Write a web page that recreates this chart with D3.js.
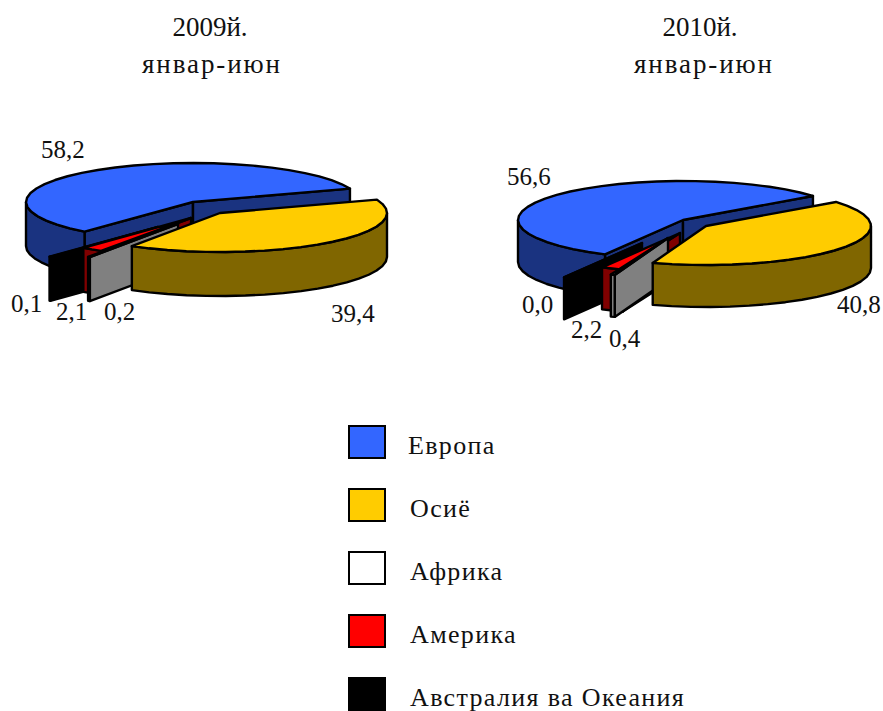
<!DOCTYPE html>
<html><head><meta charset="utf-8">
<style>html,body{margin:0;padding:0;background:#fff}svg{display:block}
text{font-family:"Liberation Serif","Times New Roman",serif;fill:#111}</style>
<script src="https://cdn.jsdelivr.net/npm/d3@7/dist/d3.min.js"></script></head>
<body><script>
const categories = ["Европа","Осиё","Африка","Америка","Австралия ва Океания"];
const values2009 = [58.2,39.4,0.2,2.1,0.1];
const values2010 = [56.6,40.8,0.4,2.2,0.0];
const titleYears = ["2009й.","2010й."];
const titlePeriod = "январ-июн";
const topColors = ["#3366FF","#FFCC00","#FFFFFF","#FF0000","#000000"];
const wallColors = ["#1A3380","#806600","#808080","#800000","#000000"];
const drawOrder = [0,4,3,2,1];

const W=883,H=711;
const svg=d3.select("body").append("svg").attr("width",W).attr("height",H);
const rad=d=>d*Math.PI/180;

const charts=[
 {values:values2009,cx:193,cy:202,rx:167,ry:39,depth:44,start:220.5,titleX:210,
  offsets:[[0,0],[27,11],[-15,22],[-2,16],[-35,25]],
  labels:[[41,158],[331,322],[104,320],[56,320],[11,312]]},
 {values:values2010,cx:683,cy:220,rx:165,ry:39,depth:42,start:208.2,titleX:700,
  offsets:[[0,0],[23,6],[-15,18],[-3,13],[-41,23]],
  labels:[[507,185],[837,313],[609,347],[571,338],[522,313]]}
];

const polyline=d3.line().curve(d3.curveLinear);
const fmt=v=>d3.format(".1f")(v).replace(".",",");

function sampleArc(a0,a1,step){
  const n=Math.max(1,Math.ceil((a1-a0)/step));
  return d3.range(n+1).map(i=>a0+(a1-a0)*i/n);
}

charts.forEach((c,ci)=>{
  const x=d3.scaleLinear().domain([-1,1]).range([-c.rx,c.rx]);
  const y=d3.scaleLinear().domain([-1,1]).range([c.ry,-c.ry]);
  const z=d3.scaleLinear().domain([0,1]).range([0,c.depth]);
  const pie=d3.pie().sort(null).startAngle(rad(c.start)).endAngle(rad(c.start+360));
  const arcs=pie(c.values);
  const g=svg.append("g");
  drawOrder.forEach(i=>{
    const s=arcs[i], [dx,dy]=c.offsets[i];
    const ax=c.cx+dx, ay=c.cy+dy;
    const pt=(t,h)=>[ax+x(Math.sin(t)),ay+y(Math.cos(t))+z(h)];
    const apex=h=>[ax,ay+z(h)];
    const a0=s.startAngle,a1=s.endAngle;
    const norm=t=>((t%(2*Math.PI))+2*Math.PI)%(2*Math.PI);
    const st={stroke:"#000","stroke-width":2.4,"stroke-linejoin":"round"};
    const poly=(pts,fill)=>{
      const p=g.append("path").attr("d",polyline(pts)+"Z").attr("fill",fill);
      Object.entries(st).forEach(([k,v])=>p.attr(k,v));
    };
    const wallAt=t=>poly([apex(0),pt(t,0),pt(t,1),apex(1)],wallColors[i]);
    if(norm(a0)>Math.PI) wallAt(a0);
    if(norm(a1)<Math.PI&&norm(a1)>0) wallAt(a1);
    const ranges=[[rad(90),rad(270)],[rad(450),rad(630)]];
    ranges.forEach(([r0,r1])=>{
      const lo=Math.max(a0,r0),hi=Math.min(a1,r1);
      if(hi>lo){
        const ts=sampleArc(lo,hi,rad(7));
        poly(ts.map(t=>pt(t,0)).concat(ts.slice().reverse().map(t=>pt(t,1))),wallColors[i]);
      }
    });
    const ts=sampleArc(a0,a1,rad(7));
    poly([apex(0)].concat(ts.map(t=>pt(t,0))),topColors[i]);
  });
  c.values.forEach((v,i)=>{
    svg.append("text").attr("x",c.labels[i][0]).attr("y",c.labels[i][1])
      .attr("font-size",25).text(fmt(v));
  });
  svg.append("text").attr("x",c.titleX).attr("y",36).attr("text-anchor","middle")
     .attr("font-size",27).text(titleYears[ci]);
  svg.append("text").attr("x",c.titleX+2+(ci?2:0)).attr("y",73).attr("text-anchor","middle")
     .attr("font-size",27).attr("letter-spacing",1.9).text(titlePeriod);
});

const ly=d3.scalePoint().domain(categories).range([425,677]);
const lg=svg.append("g");
categories.forEach((n,i)=>{
  lg.append("rect").attr("x",349).attr("y",ly(n)+1).attr("width",36).attr("height",32)
    .attr("fill",topColors[i]).attr("stroke","#000").attr("stroke-width",2);
  lg.append("text").attr("x",i===0?408:410).attr("y",ly(n)+29)
    .attr("font-size",26).attr("letter-spacing",1.35).text(n);
});
</script></body></html>
